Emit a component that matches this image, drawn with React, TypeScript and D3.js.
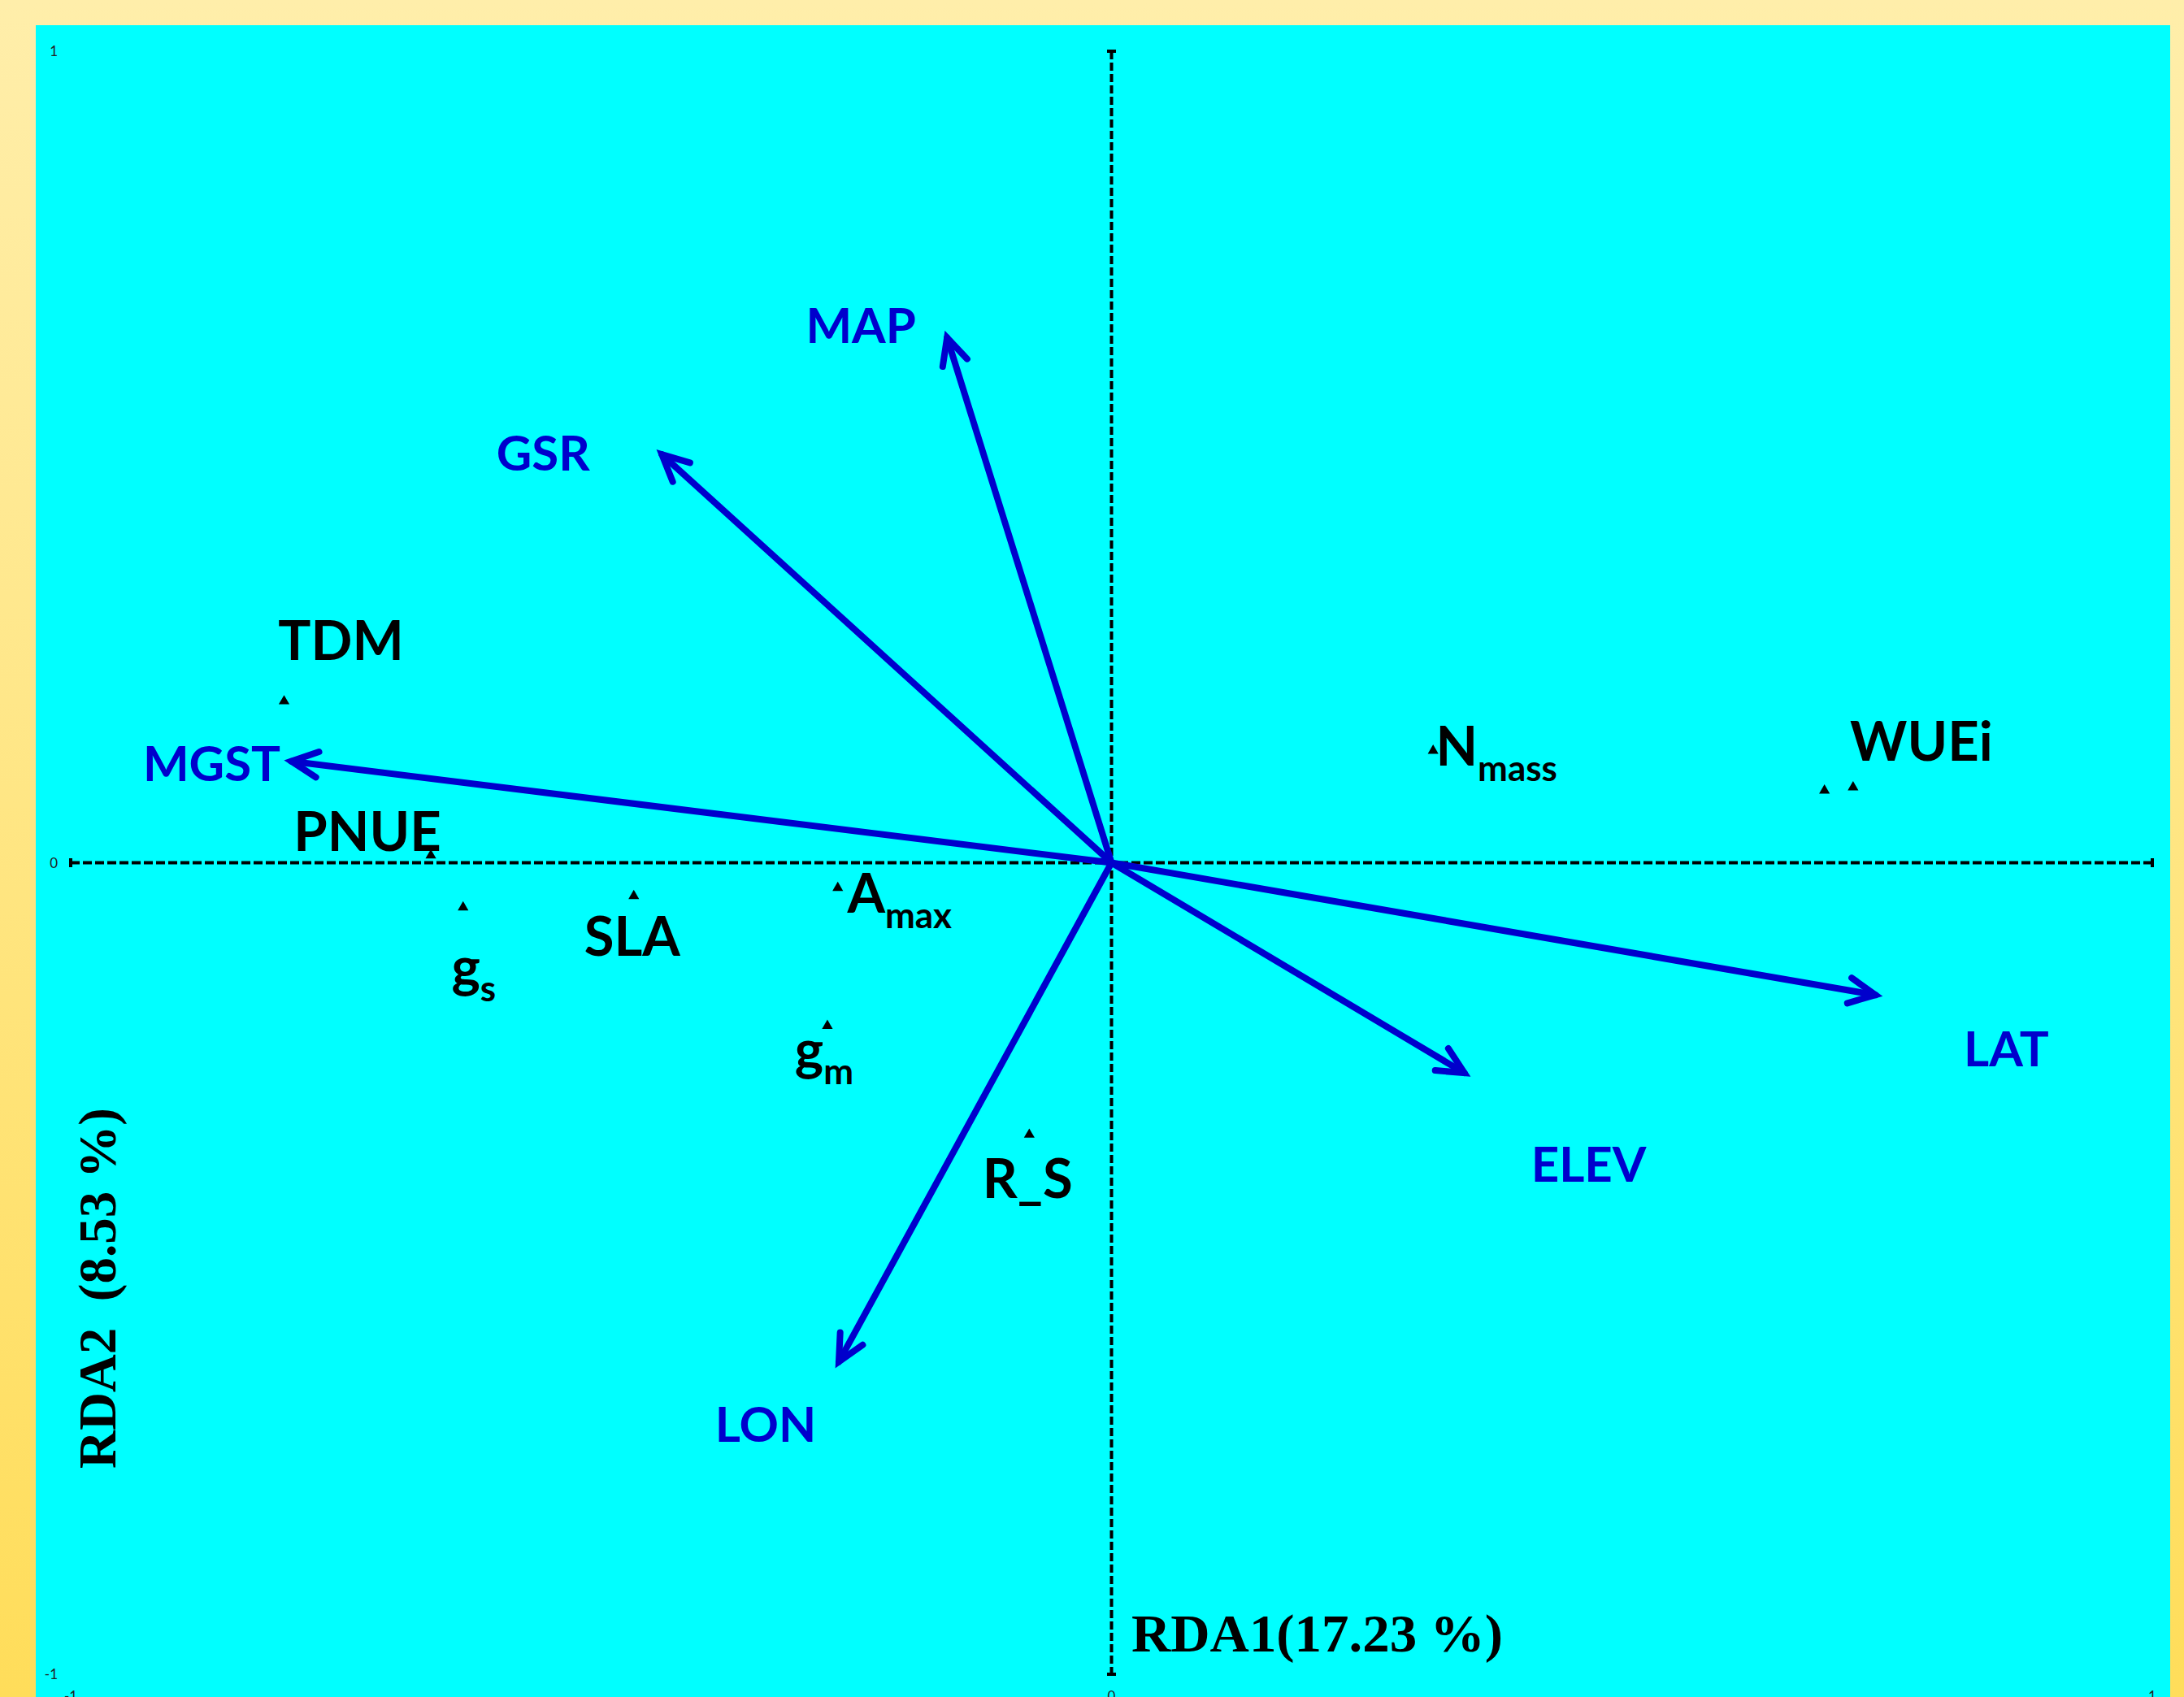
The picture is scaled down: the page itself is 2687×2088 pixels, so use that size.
import React from "react";
import * as d3 from "d3";

const W = 2687;
const H = 2088;

// Environmental vectors (biplot arrows)
const envNames = ["MAP", "GSR", "MGST", "LAT", "ELEV", "LON"];
const envRDA1 = [-0.158, -0.432, -0.788, 0.734, 0.339, -0.262];
const envRDA2 = [0.647, 0.503, 0.125, -0.163, -0.259, -0.615];

// Trait scores (points)
const traitMain = ["TDM", "PNUE", "g", "SLA", "A", "g", "R_S", "N", "WUEi", ""];
const traitSub = ["", "", "s", "", "max", "m", "", "mass", "", ""];
const traitRDA1 = [-0.795, -0.654, -0.623, -0.459, -0.263, -0.273, -0.079, 0.309, 0.7125, 0.685];
const traitRDA2 = [0.199, 0.009, -0.055, -0.041, -0.031, -0.201, -0.335, 0.138, 0.093, 0.089];

const axisTicks = [-1, 0, 1];
const xTitle = "RDA1(17.23 %)";
const yTitle = "RDA2  (8.53 %)";

// label placement (pixel offsets from mark, middle-anchored, baseline)
const envLabelOffset: [number, number][] = [
  [-106, 7],
  [-146, 20],
  [-98, 24],
  [161, 88],
  [153, 134],
  [-90, 98],
];
const traitLabelOffset: [number, number][] = [
  [70, -51],
  [-78, -6],
  [13, 97],
  [-2, 74],
  [76, 31],
  [-4, 53],
  [-2, 78],
  [78, 18],
  [84, -33],
  [0, 0],
];

const BLUE = "#0000CC";
const SANS = "Lato, 'Open Sans', sans-serif";
const SERIF = "'Liberation Serif', 'DejaVu Serif', serif";

export default function App() {
  const x = d3.scaleLinear().domain([-1, 1]).range([87, 2648]);
  const y = d3.scaleLinear().domain([-1, 1]).range([2060, 63]);
  const x0 = x(0);
  const y0 = y(0);
  const tri = d3.symbol().type(d3.symbolTriangle).size(75)() as string;

  const arrowHead = (tx: number, ty: number) => {
    const ang = Math.atan2(y0 - ty, x0 - tx);
    const L = 36;
    const a = (26 * Math.PI) / 180;
    const p1 = [tx + L * Math.cos(ang + a), ty + L * Math.sin(ang + a)];
    const p2 = [tx + L * Math.cos(ang - a), ty + L * Math.sin(ang - a)];
    return `M${p1[0]},${p1[1]}L${tx},${ty}L${p2[0]},${p2[1]}`;
  };

  const capLen = 5.5;

  return (
    <svg
      width={W}
      height={H}
      style={{ position: "absolute", left: 0, top: 0, display: "block" }}
    >
      <defs>
        <linearGradient id="bg" x1="0" y1="0" x2="0" y2="1">
          <stop offset="0%" stopColor="#FFEEAA" />
          <stop offset="100%" stopColor="#FFDD5A" />
        </linearGradient>
      </defs>
      <rect x={0} y={0} width={W} height={H} fill="url(#bg)" />
      <rect x={44} y={31} width={2626} height={H - 31} fill="#00FFFF" />

      {/* axes */}
      <g stroke="#000" strokeWidth={4}>
        <line x1={x(-1)} x2={x(1)} y1={y0} y2={y0} strokeDasharray="11 4" />
        <line x1={x0} x2={x0} y1={y(1)} y2={y(-1)} strokeDasharray="10 4" />
        <line x1={x(-1)} x2={x(-1)} y1={y0 - capLen} y2={y0 + capLen} />
        <line x1={x(1)} x2={x(1)} y1={y0 - capLen} y2={y0 + capLen} />
        <line x1={x0 - capLen} x2={x0 + capLen} y1={y(1)} y2={y(1)} />
        <line x1={x0 - capLen} x2={x0 + capLen} y1={y(-1)} y2={y(-1)} />
      </g>

      {/* tick labels */}
      <g fontFamily={SANS} fontSize={17} fill="#222">
        {axisTicks.map((t) => (
          <text key={"yt" + t} x={71} y={y(t) + 6} textAnchor="end">
            {String(t)}
          </text>
        ))}
        {axisTicks.map((t) => (
          <text key={"xt" + t} x={x(t)} y={2093} textAnchor="middle">
            {String(t)}
          </text>
        ))}
      </g>

      {/* env arrows */}
      <g stroke={BLUE} strokeWidth={8} fill="none">
        {envNames.map((n, i) => {
          const tx = x(envRDA1[i]);
          const ty = y(envRDA2[i]);
          return (
            <g key={n}>
              <line x1={x0} y1={y0} x2={tx} y2={ty} strokeLinecap="round" />
              <path d={arrowHead(tx, ty)} strokeLinecap="round" strokeLinejoin="miter" />
            </g>
          );
        })}
      </g>
      <g fontFamily={SANS} fontWeight="bold" fontSize={60} fill={BLUE} textAnchor="middle">
        {envNames.map((n, i) => (
          <text
            key={n}
            x={x(envRDA1[i]) + envLabelOffset[i][0]}
            y={y(envRDA2[i]) + envLabelOffset[i][1]}
          >
            {n}
          </text>
        ))}
      </g>

      {/* trait points */}
      <g fill="#000">
        {traitRDA1.map((v, i) => (
          <path key={i} d={tri} transform={`translate(${x(v)},${y(traitRDA2[i])})`} />
        ))}
      </g>
      <g fontFamily={SANS} fontWeight="bold" fontSize={67} fill="#000" textAnchor="middle">
        {traitMain.map((m, i) =>
          m ? (
            <text
              key={i}
              x={x(traitRDA1[i]) + traitLabelOffset[i][0]}
              y={y(traitRDA2[i]) + traitLabelOffset[i][1]}
            >
              {m}
              {traitSub[i] ? (
                <tspan fontSize={44} dy={19}>
                  {traitSub[i]}
                </tspan>
              ) : null}
            </text>
          ) : null
        )}
      </g>

      {/* axis titles */}
      <text
        x={1392}
        y={2032}
        fontFamily={SERIF}
        fontWeight="bold"
        fontSize={66}
        fill="#000"
        textLength={457}
        lengthAdjust="spacingAndGlyphs"
      >
        {xTitle}
      </text>
      <text
        transform="translate(142,1807) rotate(-90)"
        x={0}
        y={0}
        fontFamily={SERIF}
        fontWeight="bold"
        fontSize={66}
        fill="#000"
        textLength={444}
        lengthAdjust="spacingAndGlyphs"
        style={{ whiteSpace: "pre" }}
      >
        {yTitle}
      </text>
    </svg>
  );
}
